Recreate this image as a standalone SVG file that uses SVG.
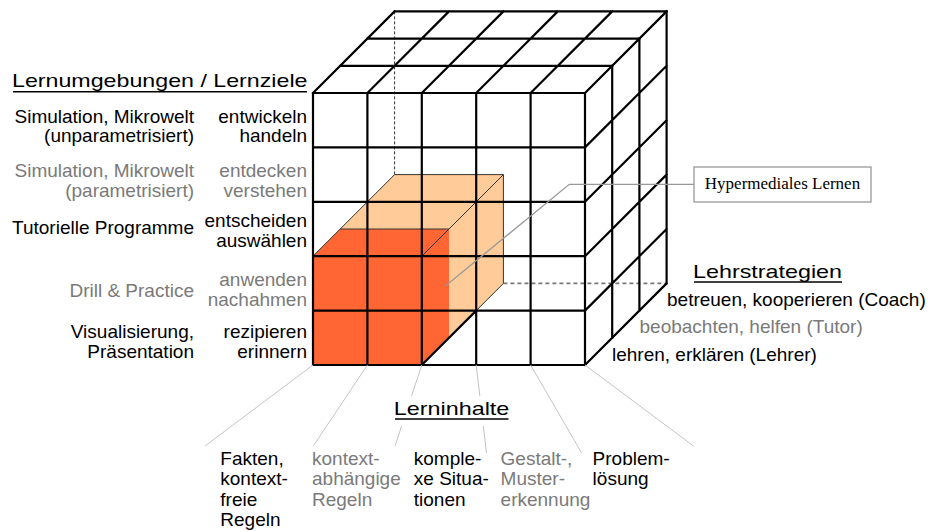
<svg xmlns="http://www.w3.org/2000/svg" width="928" height="532" viewBox="0 0 928 532">
  <style>
    .t { font-family: "Liberation Sans", Arial, sans-serif; font-size: 19px; fill: #000; }
    .g { fill: #7a7a7a; }
    .h { font-family: "Liberation Sans", Arial, sans-serif; font-size: 19px; fill: #000; }
    .e { text-anchor: end; }
    .grid { stroke: #000; stroke-width: 2.2; fill: none; stroke-linecap: square; }
    .edge { stroke: #333; stroke-width: 1; fill: none; }
    .face { fill: #fff; stroke: none; }
    .call { stroke: #c4c4c4; stroke-width: 1; fill: none; }
    .ul { stroke: #000; stroke-width: 1.6; }
  </style>

  <!-- cube body -->
  <g id="cube">
    <rect class="face" x="313" y="93" width="272" height="272"/>
    <polygon class="face" points="313,93 585,93 666.6,11.4 394.6,11.4"/>
    <polygon class="face" points="585,93 666.6,11.4 666.6,283.4 585,365"/>

    <!-- hidden back edges -->
    <line x1="394.6" y1="11.4" x2="394.6" y2="174.6" stroke="#333" stroke-width="1" stroke-dasharray="3 2"/>
    <line x1="503.4" y1="283.4" x2="666.6" y2="283.4" stroke="#777" stroke-width="1.6" stroke-dasharray="4 3"/>

    <!-- inner block 2x2x3 -->
    <polygon fill="#FFCC99" points="313,256.2 421.8,256.2 503.4,174.6 394.6,174.6"/>
    <polygon fill="#FFCC99" points="421.8,256.2 503.4,174.6 503.4,283.4 421.8,365"/>
    <!-- inner block 2x2x1 -->
    <rect fill="#FF6633" x="313" y="256.2" width="108.8" height="108.8"/>
    <polygon fill="#FF6633" points="313,256.2 421.8,256.2 449,229 340.2,229"/>
    <polygon fill="#FF6633" points="421.8,256.2 449,229 449,337.8 421.8,365"/>

    <path class="edge" d="M394.6,174.6 H503.4 V283.4 L476.2,310.6 M313,256.2 L394.6,174.6 M421.8,256.2 L503.4,174.6 M340.2,229 H449"/>

    <!-- front face grid -->
    <path class="grid" d="M313,93 V365 M367.4,93 V365 M421.8,93 V365 M476.2,93 V365 M530.6,93 V365 M585,93 V365
      M313,93 H585 M313,147.4 H585 M313,201.8 H585 M313,256.2 H585 M313,310.6 H585 M313,365 H585
      M476.2,310.6 L421.8,365"/>
    <!-- top face grid -->
    <path class="grid" d="M340.2,65.8 H612.2 M367.4,38.6 H639.4 M394.6,11.4 H666.6
      M313,93 L394.6,11.4 M367.4,93 L449,11.4 M421.8,93 L503.4,11.4 M476.2,93 L557.8,11.4 M530.6,93 L612.2,11.4 M585,93 L666.6,11.4"/>
    <!-- right face grid -->
    <path class="grid" d="M612.2,65.8 V337.8 M639.4,38.6 V310.6 M666.6,11.4 V283.4
      M585,147.4 L666.6,65.8 M585,201.8 L666.6,120.2 M585,256.2 L666.6,174.6 M585,310.6 L666.6,229 M585,365 L666.6,283.4"/>
  </g>

  <!-- connectors -->
  <g id="connectors">
    <polyline points="445.7,285.7 569.3,184.3 694,184.3" stroke="#999" stroke-width="1.3" fill="none"/>
    <line class="call" x1="313" y1="365" x2="205" y2="446"/>
    <line class="call" x1="367.4" y1="365" x2="313.3" y2="446"/>
    <line class="call" x1="421.8" y1="365" x2="395" y2="446"/>
    <line class="call" x1="476.2" y1="365" x2="486.5" y2="453"/>
    <polyline class="call" points="530.6,365 577,445 581.5,453"/>
    <line class="call" x1="585" y1="365" x2="693.5" y2="446"/>
  </g>

  <!-- callout label -->
  <g id="hypermedia">
    <rect x="694" y="167" width="177" height="35" fill="#fff" stroke="#999" stroke-width="1.3"/>
    <text x="782.5" y="188.5" font-family="'Liberation Serif', 'Times New Roman', serif" font-size="17" text-anchor="middle">Hypermediales Lernen</text>
  </g>

  <!-- axis: learning environments / goals -->
  <g id="axis-left">
    <text class="h" x="12" y="86.7" textLength="295.5" lengthAdjust="spacingAndGlyphs">Lernumgebungen / Lernziele</text>
    <line class="ul" x1="13" y1="91.7" x2="307" y2="91.7"/>

    <text class="t e" x="194" y="123">Simulation, Mikrowelt</text>
    <text class="t e" x="194" y="142">(unparametrisiert)</text>
    <text class="t e" x="307" y="123">entwickeln</text>
    <text class="t e" x="307" y="142">handeln</text>

    <text class="t g e" x="194" y="177">Simulation, Mikrowelt</text>
    <text class="t g e" x="194" y="196.5">(parametrisiert)</text>
    <text class="t g e" x="307" y="177">entdecken</text>
    <text class="t g e" x="307" y="196.5">verstehen</text>

    <text class="t e" x="194" y="234">Tutorielle Programme</text>
    <text class="t e" x="307" y="227">entscheiden</text>
    <text class="t e" x="307" y="246.5">auswählen</text>

    <text class="t g e" x="194" y="296.5">Drill &amp; Practice</text>
    <text class="t g e" x="307" y="286">anwenden</text>
    <text class="t g e" x="307" y="305.5">nachahmen</text>

    <text class="t e" x="194" y="338">Visualisierung,</text>
    <text class="t e" x="194" y="357.5">Präsentation</text>
    <text class="t e" x="307" y="338">rezipieren</text>
    <text class="t e" x="307" y="357.5">erinnern</text>
  </g>

  <!-- axis: teaching strategies -->
  <g id="axis-right">
    <text class="h" x="693" y="277.8" textLength="149" lengthAdjust="spacingAndGlyphs">Lehrstrategien</text>
    <line class="ul" x1="694" y1="282" x2="842" y2="282"/>
    <text class="t" x="667" y="306">betreuen, kooperieren (Coach)</text>
    <text class="t g" x="639.5" y="333">beobachten, helfen (Tutor)</text>
    <text class="t" x="612" y="360.5">lehren, erklären (Lehrer)</text>
  </g>

  <!-- axis: learning content -->
  <g id="axis-bottom">
    <rect x="390" y="396" width="124" height="30" fill="#fff"/>
    <text class="h" x="393.8" y="415" textLength="115.5" lengthAdjust="spacingAndGlyphs">Lerninhalte</text>
    <line class="ul" x1="395" y1="419" x2="508.5" y2="419"/>

    <text class="t" x="220.3" y="464.5">Fakten,</text>
    <text class="t" x="220.3" y="485">kontext-</text>
    <text class="t" x="220.3" y="505.5">freie</text>
    <text class="t" x="220.3" y="526">Regeln</text>

    <text class="t g" x="312" y="464.5">kontext-</text>
    <text class="t g" x="312" y="485">abhängige</text>
    <text class="t g" x="312" y="505.5">Regeln</text>

    <text class="t" x="413.8" y="464.5">komple-</text>
    <text class="t" x="413.8" y="485">xe Situa-</text>
    <text class="t" x="413.8" y="505.5">tionen</text>

    <text class="t g" x="500.6" y="464.5">Gestalt-,</text>
    <text class="t g" x="500.6" y="485">Muster-</text>
    <text class="t g" x="500.6" y="505.5">erkennung</text>

    <text class="t" x="592.6" y="464.5">Problem-</text>
    <text class="t" x="592.6" y="485">lösung</text>
  </g>
</svg>
